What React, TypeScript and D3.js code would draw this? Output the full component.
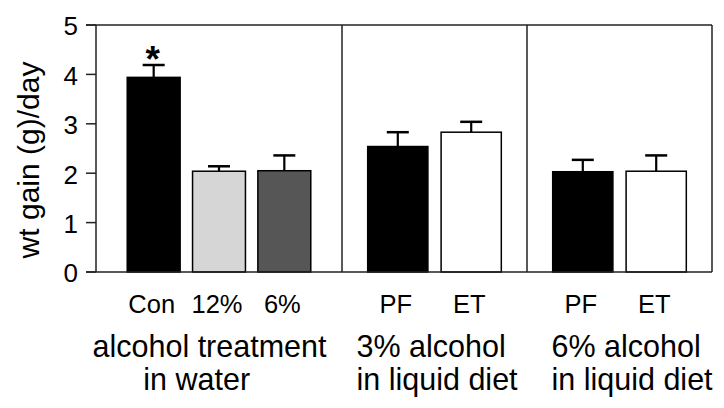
import React from "react";
import * as d3 from "d3";

const categories = ["Con", "12%", "6%", "PF", "ET", "PF", "ET"];
const groupOf = [0, 0, 0, 1, 1, 2, 2];
const means = [3.94, 2.04, 2.05, 2.54, 2.83, 2.03, 2.04];
const sems = [0.25, 0.1, 0.31, 0.29, 0.21, 0.24, 0.32];
const significant = [true, false, false, false, false, false, false];
const groupLabels = [
  ["alcohol treatment", "in water"],
  ["3% alcohol", "in liquid diet"],
  ["6% alcohol", "in liquid diet"],
];
const yTicks = [0, 1, 2, 3, 4, 5];
const yLabel = "wt gain (g)/day";

const fills = ["#000000", "#d6d6d6", "#565656", "#000000", "#ffffff", "#000000", "#ffffff"];

const W = 724;
const H = 408;
const FONT = "'Liberation Sans', Arial, Helvetica, sans-serif";

export default function App() {
  const y = d3.scaleLinear().domain([0, 5]).range([272, 25]);
  const edges = [96, 342, 527, 712];
  const paddings = [
    { inner: 0.19, outer: 0.478 },
    { inner: 0.18, outer: 0.35 },
    { inner: 0.18, outer: 0.35 },
  ];
  const panelScales = groupLabels.map((_, g) => {
    const idx = categories.map((_, i) => i).filter((i) => groupOf[i] === g);
    return d3
      .scaleBand<number>()
      .domain(idx)
      .range([edges[g], edges[g + 1]])
      .paddingInner(paddings[g].inner)
      .paddingOuter(paddings[g].outer);
  });
  const xOf = (i: number) => panelScales[groupOf[i]](i) as number;
  const bw = (i: number) => panelScales[groupOf[i]].bandwidth();

  const frame = "#222";
  const capHalf = 11;

  const groupLine = [
    { anchor: "middle", xs: [209.5, 196.7] },
    { anchor: "start", xs: [356.5, 356.5] },
    { anchor: "start", xs: [551.5, 551.5] },
  ];

  return (
    <svg
      width={W}
      height={H}
      style={{ position: "absolute", left: 0, top: 0, background: "#fff" }}
      fontFamily={FONT}
    >
      <rect x={0} y={0} width={W} height={H} fill="#fff" />
      {/* bars */}
      {means.map((m, i) => {
        const x0 = xOf(i);
        const w = bw(i);
        const cx = x0 + w / 2;
        const top = y(m);
        const et = y(m + sems[i]);
        return (
          <g key={i}>
            <rect x={x0} y={top} width={w} height={y(0) - top} fill={fills[i]} stroke="#000" strokeWidth={1.5} />
            <line x1={cx} x2={cx} y1={top} y2={et} stroke="#000" strokeWidth={2.2} />
            <line x1={cx - capHalf} x2={cx + capHalf} y1={et} y2={et} stroke="#000" strokeWidth={2.5} />
            {significant[i] && (
              <text x={cx - 1} y={et + 7} textAnchor="middle" fontSize={37} fontWeight="bold" fill="#000">
                *
              </text>
            )}
          </g>
        );
      })}
      {/* frame */}
      <line x1={86} x2={edges[3]} y1={y(5)} y2={y(5)} stroke={frame} strokeWidth={1.5} />
      <line x1={86} x2={edges[3]} y1={y(0)} y2={y(0)} stroke={frame} strokeWidth={1.5} />
      {edges.map((e, k) => (
        <line key={k} x1={e} x2={e} y1={y(5)} y2={y(0)} stroke={frame} strokeWidth={1.5} />
      ))}
      {yTicks.map((t) => (
        <g key={t}>
          <line x1={86} x2={96} y1={y(t)} y2={y(t)} stroke={frame} strokeWidth={1.5} />
          <text x={78} y={y(t) + 1} dy="0.36em" textAnchor="end" fontSize={26} fill="#000">
            {t}
          </text>
        </g>
      ))}
      <text
        transform={`translate(38.5,160) rotate(-90)`}
        textAnchor="middle"
        fontSize={30}
        fill="#000"
      >
        {yLabel}
      </text>
      {/* category labels */}
      {categories.map((c, i) => (
        <text key={i} x={xOf(i) + bw(i) / 2 - 2} y={313} textAnchor="middle" fontSize={25.5} fill="#000">
          {c}
        </text>
      ))}
      {/* group labels */}
      {groupLabels.map((lines, g) =>
        lines.map((l, k) => (
          <text
            key={`${g}-${k}`}
            x={groupLine[g].xs[k]}
            y={357 + k * 33}
            textAnchor={groupLine[g].anchor as any}
            fontSize={30.5}
            fill="#000"
          >
            {l}
          </text>
        ))
      )}
    </svg>
  );
}
